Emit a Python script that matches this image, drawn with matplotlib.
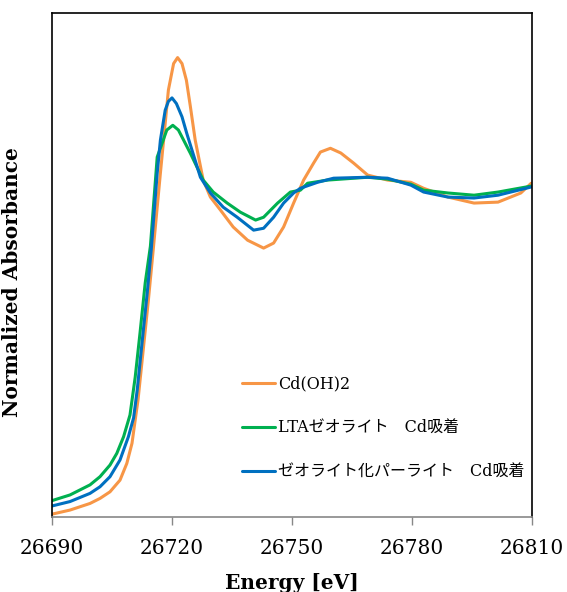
import matplotlib
matplotlib.use("Agg")
import matplotlib.pyplot as plt

# Energy (eV) and normalized absorbance
e_cdoh = [26690.0, 26694.5, 26699.5, 26702.0, 26704.5, 26707.0, 26708.7, 26710.0, 26710.8,
          26711.5, 26712.8, 26714.1, 26715.3, 26717.1, 26717.9, 26719.1, 26720.4, 26721.4,
          26722.5, 26723.6, 26724.6, 26725.8, 26727.8, 26729.6, 26732.1, 26735.3, 26738.9,
          26742.9, 26745.4, 26747.9, 26750.4, 26752.9, 26755.4, 26757.1, 26759.6, 26762.2,
          26765.4, 26768.9, 26773.9, 26779.7, 26782.9, 26789.0, 26795.5, 26801.5, 26807.2,
          26809.8]
a_cdoh = [0.009, 0.022, 0.043, 0.059, 0.080, 0.117, 0.170, 0.234, 0.308,
          0.371, 0.530, 0.689, 0.848, 1.092, 1.197, 1.356, 1.440, 1.459,
          1.440, 1.387, 1.303, 1.197, 1.070, 1.016, 0.975, 0.921, 0.879,
          0.854, 0.870, 0.921, 0.997, 1.070, 1.124, 1.159, 1.171, 1.156,
          1.124, 1.086, 1.070, 1.063, 1.044, 1.016, 0.997, 1.000, 1.029,
          1.060]

e_lta = [26690.0, 26694.5, 26699.5, 26702.0, 26704.5, 26706.2, 26707.9, 26709.5, 26710.8,
         26712.0, 26713.3, 26714.6, 26716.3, 26717.5, 26718.7, 26720.2, 26721.6, 26722.9,
         26724.6, 26727.8, 26730.3, 26733.8, 26737.1, 26740.9, 26742.9, 26746.4, 26749.6,
         26752.1, 26753.9, 26758.9, 26768.9, 26773.9, 26779.7, 26782.9, 26789.0, 26795.5,
         26801.5, 26809.8]
a_lta = [0.052, 0.070, 0.102, 0.128, 0.165, 0.202, 0.255, 0.324, 0.444,
         0.584, 0.743, 0.860, 1.143, 1.186, 1.229, 1.244, 1.229, 1.197,
         1.155, 1.070, 1.032, 0.997, 0.968, 0.943, 0.952, 0.997, 1.032,
         1.038, 1.060, 1.070, 1.079, 1.073, 1.057, 1.038, 1.029, 1.022,
         1.032, 1.051]

e_perl = [26690.0, 26694.5, 26699.5, 26702.0, 26704.5, 26707.0, 26709.1, 26710.4, 26711.3,
          26712.5, 26713.8, 26714.8, 26716.3, 26717.1, 26718.3, 26719.1, 26720.0, 26721.1,
          26722.5, 26723.7, 26725.0, 26727.1, 26729.6, 26732.8, 26736.3, 26740.4, 26742.9,
          26745.4, 26747.9, 26750.4, 26752.1, 26756.4, 26760.4, 26768.9, 26773.9, 26779.7,
          26782.9, 26789.0, 26795.5, 26801.5, 26809.8]
a_perl = [0.035, 0.049, 0.075, 0.096, 0.128, 0.181, 0.255, 0.315, 0.403,
          0.552, 0.711, 0.848, 1.092, 1.197, 1.292, 1.320, 1.331, 1.313,
          1.271, 1.218, 1.165, 1.079, 1.029, 0.984, 0.952, 0.911, 0.917,
          0.952, 0.997, 1.029, 1.044, 1.063, 1.076, 1.079, 1.076, 1.054,
          1.032, 1.016, 1.013, 1.022, 1.048]

labels = ["Cd(OH)2", "LTAゼオライト　Cd吸着", "ゼオライト化パーライト　Cd吸着"]
colors = ["#F79646", "#00B050", "#0070C0"]
xticks = [26690, 26720, 26750, 26780, 26810]

fig = plt.figure(figsize=(5.67, 5.92), dpi=100)
ax = fig.add_axes([0.0917, 0.1267, 0.8466, 0.851])

for e, a, c, lab in zip([e_cdoh, e_lta, e_perl], [a_cdoh, a_lta, a_perl], colors, labels):
    ax.plot(e, a, color=c, lw=2.2, label=lab, solid_capstyle="round", solid_joinstyle="round")

ax.set_xlim(26690, 26810)
ax.set_ylim(0, 1.6)
ax.set_xticks(xticks)
ax.set_xticklabels([str(t) for t in xticks], family="DejaVu Serif", fontsize=14.5)
ax.set_yticks([])
ax.tick_params(axis="x", direction="out", length=6, width=1, color="#888888", pad=10)
for s in ["left", "right", "top"]:
    ax.spines[s].set_color("black")
    ax.spines[s].set_linewidth(1.2)
ax.spines["bottom"].set_color("#888888")
ax.spines["bottom"].set_linewidth(1.2)

ax.set_xlabel("Energy [eV]", family="DejaVu Serif", fontweight="bold", fontsize=14.5, labelpad=11)
ax.set_ylabel("Normalized Absorbance", family="DejaVu Serif", fontweight="bold", fontsize=14.5)
ax.yaxis.set_label_coords(-0.063, 0.466)

leg = ax.legend(loc="upper left", bbox_to_anchor=(0.365, 0.31), frameon=False,
                handlelength=2.1, handletextpad=0.2, labelspacing=1.7,
                prop={"family": ["DejaVu Serif", "Noto Sans CJK JP"], "size": 11.5})

fig.savefig("out.png", dpi=100)
